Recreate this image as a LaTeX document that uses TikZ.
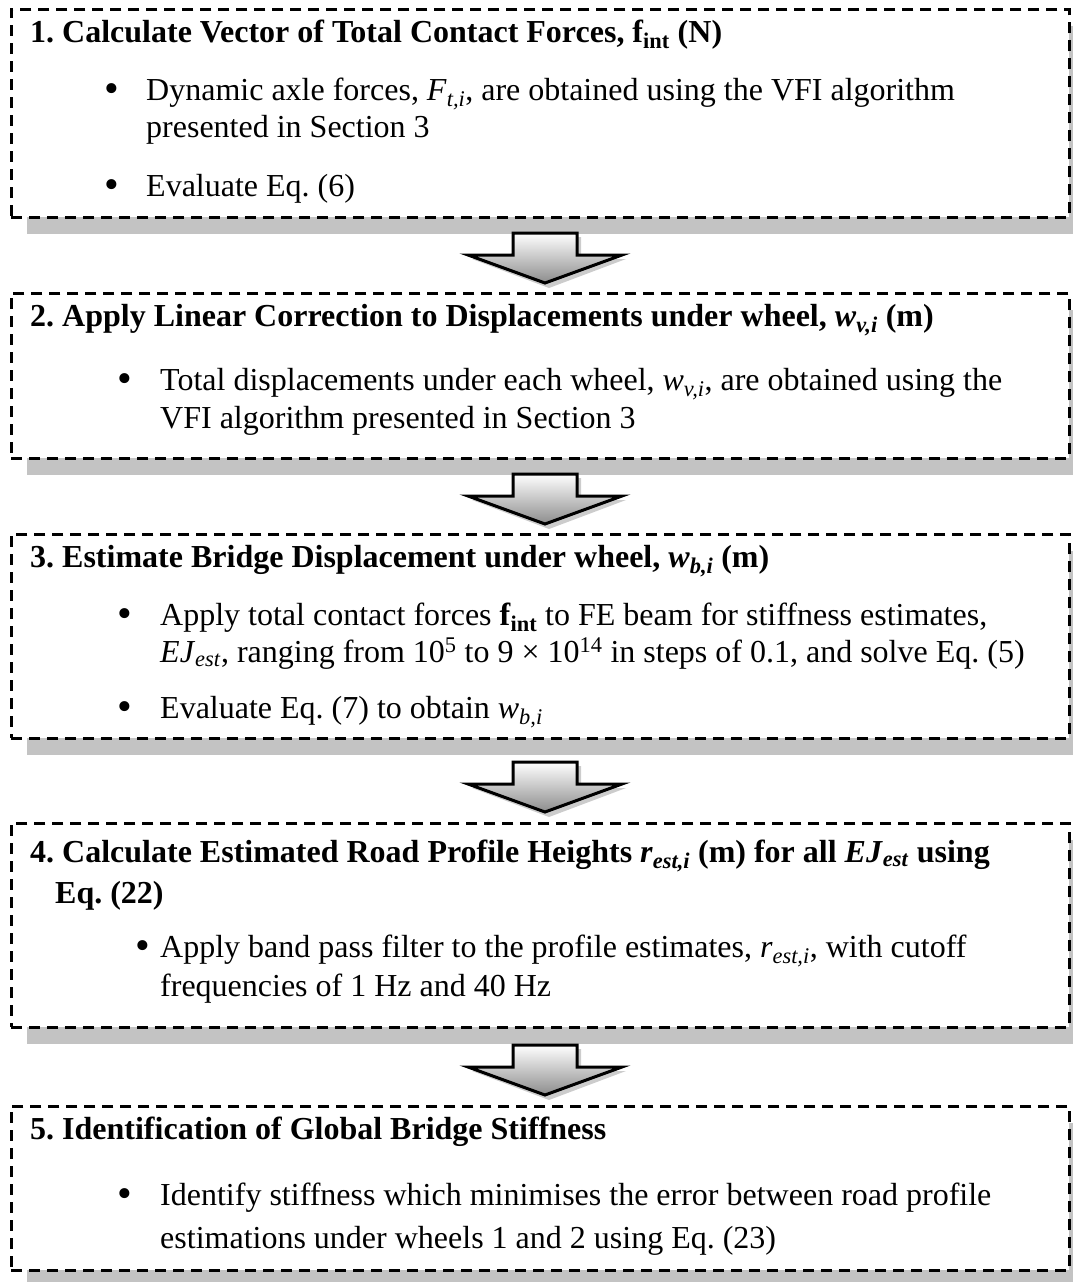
\documentclass[tikz,border=0pt]{standalone}
\usepackage{fontspec}
\setmainfont{Liberation Serif}
\usetikzlibrary{calc,shadows}
\definecolor{shadowgray}{RGB}{195,195,195}
\frenchspacing
\tikzset{
  box/.style={rectangle, draw=black, fill=white, line width=2.6pt, dash pattern=on 11pt off 7pt,
    anchor=north west, inner sep=0pt, minimum width=1058pt,
    general shadow={fill=shadowgray, shadow xshift=16pt, shadow yshift=-17pt}},
  head/.style={anchor=base west, inner sep=0pt, font=\fontsize{32}{38}\selectfont\bfseries},
  body/.style={anchor=base west, inner sep=0pt, font=\fontsize{32}{38}\selectfont},
  bul/.style={anchor=base, inner sep=0pt, font=\fontsize{42}{38}\selectfont},
  arrowbody/.style={draw=black, line width=3pt, line join=miter, top color=white, bottom color=black!45},
  flowarrow/.pic={
    \fill[gray!40] (-28,4) -- (36,4) -- (36,26) -- (81,26) -- (4,55) -- (-73,26) -- (-28,26) -- cycle;
    \path[arrowbody] (-32,0) -- (32,0) -- (32,22) -- (77,22) -- (0,50) -- (-77,22) -- (-32,22) -- cycle;
  }
}
\newcommand{\mi}[2]{\textit{#1}\textsubscript{\textit{#2}}}
\begin{document}
\begin{tikzpicture}[x=1pt,y=-1pt]
\useasboundingbox (0,0) rectangle (1073,1282);
\begin{scope}
\clip (0,0) rectangle (1073,1282);
% boxes
\node[box, minimum height=208pt] (b1) at (10,8) {};
\node[box, minimum height=165pt] (b2) at (10,292) {};
\node[box, minimum height=204pt] (b3) at (10,533) {};
\node[box, minimum height=204pt] (b4) at (10,822) {};
\node[box, minimum height=164pt] (b5) at (10,1105) {};
% arrows
\pic (a1) at (545,233) {flowarrow};
\pic (a2) at (545,474) {flowarrow};
\pic (a3) at (545,762) {flowarrow};
\pic (a4) at (545,1045) {flowarrow};
\end{scope}
% box 1
\node[head] (h1) at (30,42) {1. Calculate Vector of Total Contact Forces, f\textsubscript{int} (N)};
\node[bul] (p1a) at (112,102) {\textbullet};
\node[body] (t1a) at (146,100) {Dynamic axle forces, \mi{F}{t,i}, are obtained using the VFI algorithm};
\node[body] (t1b) at (146,137) {presented in Section 3};
\node[bul] (p1b) at (112,198) {\textbullet};
\node[body] (t1c) at (146,196) {Evaluate Eq. (6)};
% box 2
\node[head] (h2) at (30,326) {2. Apply Linear Correction to Displacements under wheel, \mi{w}{v,i} (m)};
\node[bul] (p2a) at (125,392) {\textbullet};
\node[body] (t2a) at (160,390) {Total displacements under each wheel, \mi{w}{v,i}, are obtained using the};
\node[body] (t2b) at (160,428) {VFI algorithm presented in Section 3};
% box 3
\node[head] (h3) at (30,567) {3. Estimate Bridge Displacement under wheel, \mi{w}{b,i} (m)};
\node[bul] (p3a) at (125,627) {\textbullet};
\node[body] (t3a) at (160,625) {Apply total contact forces \textbf{f}\textsubscript{\textbf{int}} to FE beam for stiffness estimates,};
\node[body] (t3b) at (160,662) {\mi{EJ}{est}, ranging from 10\textsuperscript{5} to 9 × 10\textsuperscript{14} in steps of 0.1, and solve Eq. (5)};
\node[bul] (p3b) at (125,720) {\textbullet};
\node[body] (t3c) at (160,718) {Evaluate Eq. (7) to obtain \mi{w}{b,i}};
% box 4
\node[head] (h4) at (30,862) {4. Calculate Estimated Road Profile Heights \mi{r}{est,i} (m) for all \mi{EJ}{est} using};
\node[head] (h4b) at (55,903) {Eq. (22)};
\node[bul] (p4a) at (143,959) {\textbullet};
\node[body] (t4a) at (160,957) {Apply band pass filter to the profile estimates, \mi{r}{est,i}, with cutoff};
\node[body] (t4b) at (160,996) {frequencies of 1 Hz and 40 Hz};
% box 5
\node[head] (h5) at (30,1139) {5. Identification of Global Bridge Stiffness};
\node[bul] (p5a) at (125,1207) {\textbullet};
\node[body] (t5a) at (160,1205) {Identify stiffness which minimises the error between road profile};
\node[body] (t5b) at (160,1248) {estimations under wheels 1 and 2 using Eq. (23)};
\end{tikzpicture}
\end{document}
